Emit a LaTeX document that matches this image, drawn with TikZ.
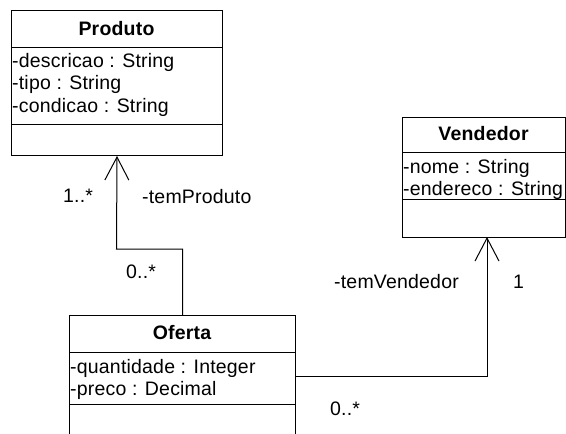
\documentclass[tikz,border=0pt]{standalone}
\usepackage{fontspec}
\setmainfont{Liberation Sans}[LetterSpace=1]
\usetikzlibrary{arrows.meta}
\begin{document}
\begin{tikzpicture}[x=1pt,y=-1pt,
  cls/.style={draw=black,line width=1pt,rectangle,inner sep=0pt,anchor=north west},
  sep/.style={draw=black,line width=1pt},
  ttl/.style={inner sep=0pt,anchor=base,font=\fontsize{19.5}{22}\selectfont\bfseries},
  attr/.style={inner sep=0pt,anchor=base west,font=\fontsize{19.5}{22}\selectfont},
  lbl/.style={inner sep=0pt,anchor=base west,font=\fontsize{19.5}{22}\selectfont},
  assoc/.style={draw=black,line width=1pt,-{Straight Barb[length=23pt,width=24pt,line width=1pt]}}]
\useasboundingbox (0,0) rectangle (566,434);
\clip (0,0) rectangle (566,434);
% Produto
\node[cls,minimum width=211pt,minimum height=145pt] (prod) at (11,10) {};
\draw[sep] (11,47) -- (222,47);
\draw[sep] (11,124) -- (222,124);
\node[ttl] (prodT) at (116.5,35) {Produto};
\node[attr] (prodA1) at (12,67) {-descricao : String};
\node[attr] (prodA2) at (12,89.5) {-tipo : String};
\node[attr] (prodA3) at (12,112) {-condicao : String};
% Vendedor
\node[cls,minimum width=163pt,minimum height=120pt] (vend) at (402,117) {};
\draw[sep] (402,152) -- (565,152);
\draw[sep] (402,199) -- (565,199);
\node[ttl] (vendT) at (483.5,140) {Vendedor};
\node[attr] (vendA1) at (403,173) {-nome : String};
\node[attr] (vendA2) at (403,195) {-endereco : String};
% Oferta
\node[cls,minimum width=226pt,minimum height=130pt] (ofer) at (69,315) {};
\draw[sep] (69,352) -- (295,352);
\draw[sep] (69,404) -- (295,404);
\node[ttl] (oferT) at (182,339) {Oferta};
\node[attr] (oferA1) at (70,373) {-quantidade : Integer};
\node[attr] (oferA2) at (70,395) {-preco : Decimal};
% associations
\coordinate (vtip) at (487,237);
\draw[assoc] (ofer.north) |- (116.5,249) -- (prod.south);
\draw[assoc] (ofer.east |- 0,376) -| (vtip);
% labels
\node[lbl] (l1) at (63,202) {1..*};
\node[lbl] (l2) at (142,203) {-temProduto};
\node[lbl] (l3) at (126,278) {0..*};
\node[lbl] (l4) at (334,288) {-temVendedor};
\node[lbl] (l5) at (513,288) {1};
\node[lbl] (l6) at (330,415) {0..*};
\end{tikzpicture}
\end{document}
